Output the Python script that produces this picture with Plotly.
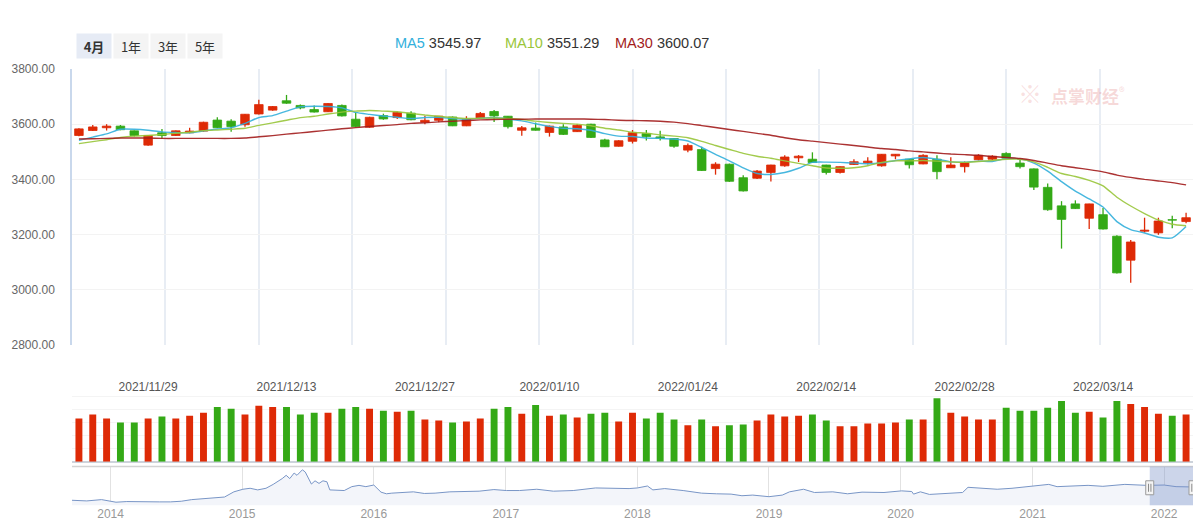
import plotly.graph_objects as go

# ---------------- data ----------------
dates = [
    "2021/11/22", "2021/11/23", "2021/11/24", "2021/11/25", "2021/11/26",
    "2021/11/29", "2021/11/30", "2021/12/01", "2021/12/02", "2021/12/03",
    "2021/12/06", "2021/12/07", "2021/12/08", "2021/12/09", "2021/12/10",
    "2021/12/13", "2021/12/14", "2021/12/15", "2021/12/16", "2021/12/17",
    "2021/12/20", "2021/12/21", "2021/12/22", "2021/12/23", "2021/12/24",
    "2021/12/27", "2021/12/28", "2021/12/29", "2021/12/30", "2021/12/31",
    "2022/01/04", "2022/01/05", "2022/01/06", "2022/01/07",
    "2022/01/10", "2022/01/11", "2022/01/12", "2022/01/13", "2022/01/14",
    "2022/01/17", "2022/01/18", "2022/01/19", "2022/01/20", "2022/01/21",
    "2022/01/24", "2022/01/25", "2022/01/26", "2022/01/27", "2022/01/28",
    "2022/02/07", "2022/02/08", "2022/02/09", "2022/02/10", "2022/02/11",
    "2022/02/14", "2022/02/15", "2022/02/16", "2022/02/17", "2022/02/18",
    "2022/02/21", "2022/02/22", "2022/02/23", "2022/02/24", "2022/02/25",
    "2022/02/28", "2022/03/01", "2022/03/02", "2022/03/03", "2022/03/04",
    "2022/03/07", "2022/03/08", "2022/03/09", "2022/03/10", "2022/03/11",
    "2022/03/14", "2022/03/15", "2022/03/16", "2022/03/17", "2022/03/18",
    "2022/03/21", "2022/03/22",
]

open_ = [3559, 3577, 3587, 3593, 3576, 3524, 3569, 3559, 3569, 3575, 3615, 3611, 3598, 3637, 3651, 3685, 3668, 3653, 3645, 3668, 3618,
         3589, 3631, 3624, 3640, 3607, 3614, 3626, 3594, 3623, 3646, 3629, 3578, 3586, 3570, 3590, 3573, 3600, 3543, 3520, 3538,
         3566, 3554, 3548, 3506, 3508, 3439, 3455, 3406, 3404, 3425, 3449, 3478, 3473, 3452, 3425, 3454, 3460, 3449, 3485, 3473, 3456,
         3473, 3442, 3446, 3471, 3473, 3494, 3459, 3438, 3371, 3304, 3311, 3259, 3272, 3194, 3107, 3212, 3206, 3254, 3247]
close = [3583, 3590, 3593, 3580, 3559, 3559, 3559, 3576, 3575, 3607, 3587, 3591, 3636, 3671, 3664, 3676, 3659, 3644, 3675, 3630, 3591,
         3625, 3619, 3643, 3616, 3614, 3629, 3594, 3617, 3639, 3630, 3591, 3587, 3578, 3593, 3563, 3596, 3552, 3518, 3540, 3569,
         3555, 3548, 3520, 3523, 3432, 3455, 3393, 3358, 3430, 3452, 3481, 3484, 3461, 3425, 3446, 3464, 3466, 3491, 3491, 3453, 3487,
         3428, 3452, 3461, 3487, 3484, 3477, 3446, 3372, 3290, 3255, 3294, 3311, 3220, 3061, 3173, 3216, 3249, 3252, 3261]
high = [3585, 3597, 3600, 3597, 3577, 3560, 3583, 3577, 3587, 3609, 3625, 3618, 3637, 3689, 3666, 3706, 3671, 3668, 3676, 3671, 3642,
        3627, 3638, 3645, 3647, 3631, 3630, 3628, 3629, 3644, 3651, 3630, 3593, 3606, 3595, 3600, 3600, 3602, 3547, 3542, 3579,
        3579, 3576, 3550, 3530, 3518, 3462, 3457, 3415, 3434, 3453, 3487, 3488, 3498, 3453, 3447, 3473, 3480, 3492, 3492, 3474, 3491,
        3487, 3480, 3465, 3491, 3487, 3498, 3470, 3439, 3385, 3321, 3324, 3312, 3296, 3197, 3180, 3261, 3261, 3268, 3279]
low = [3556, 3575, 3577, 3578, 3555, 3522, 3547, 3558, 3567, 3573, 3586, 3573, 3591, 3635, 3649, 3674, 3654, 3642, 3644, 3628, 3589,
       3587, 3616, 3619, 3614, 3600, 3607, 3593, 3593, 3621, 3608, 3584, 3558, 3577, 3555, 3561, 3572, 3550, 3517, 3519, 3530,
       3541, 3541, 3515, 3498, 3430, 3417, 3391, 3356, 3401, 3392, 3446, 3463, 3460, 3418, 3421, 3452, 3454, 3446, 3473, 3439, 3455,
       3400, 3441, 3425, 3469, 3470, 3475, 3439, 3361, 3286, 3149, 3293, 3220, 3218, 3059, 3025, 3207, 3199, 3223, 3241]

ma5 = [3541.3, 3553.3, 3565.0, 3581.6, 3581.6, 3578.0, 3572.0, 3569.6, 3568.5, 3575.6, 3582.6, 3587.2, 3602.8, 3624.0, 3631.0, 3647.3, 3662.9, 3665.0, 3663.9, 3659.3, 3642.7,
       3635.6, 3629.6, 3625.0, 3620.4, 3624.0, 3625.0, 3620.4, 3618.0, 3621.5, 3624.0, 3619.0, 3612.0, 3601.4, 3592.2, 3585.1, 3583.7, 3578.0, 3566.0, 3556.8, 3555.4,
       3549.8, 3548.4, 3546.2, 3539.2, 3515.5, 3490.7, 3467.1, 3441.3, 3421.1, 3417.6, 3424.7, 3440.2, 3461.4, 3462.5, 3461.4, 3458.9, 3456.5, 3460.0, 3468.5, 3474.1, 3479.1,
       3473.1, 3463.5, 3462.5, 3466.0, 3464.9, 3475.5, 3474.1, 3458.9, 3429.6, 3391.8, 3357.5, 3329.2, 3299.9, 3246.9, 3217.6, 3205.6, 3190.4, 3187.9, 3229.2]
ma10 = [3529.6, 3536.7, 3543.8, 3551.9, 3556.8, 3559.0, 3562.5, 3567.4, 3571.0, 3576.6, 3579.1, 3581.6, 3585.1, 3595.7, 3604.9, 3614.4, 3624.0, 3628.6, 3636.7, 3643.8, 3647.3,
        3649.8, 3647.3, 3645.2, 3639.2, 3633.2, 3628.6, 3624.0, 3620.4, 3621.5, 3622.6, 3620.4, 3616.9, 3610.9, 3606.3, 3602.8, 3600.3, 3594.3, 3585.1, 3579.1, 3571.0,
        3567.4, 3561.4, 3556.8, 3550.8, 3537.7, 3522.6, 3508.4, 3494.3, 3483.7, 3476.6, 3467.1, 3457.9, 3449.4, 3441.3, 3440.2, 3442.3, 3449.4, 3461.4, 3467.1, 3467.1, 3468.5,
        3466.0, 3463.5, 3461.4, 3464.9, 3468.5, 3473.1, 3473.1, 3463.5, 3443.7, 3421.1, 3410.5, 3396.4, 3376.6, 3335.2, 3303.4, 3276.2, 3252.9, 3237.4, 3231.7]
ma30 = [3546.2, 3547.3, 3548.4, 3549.8, 3549.8, 3549.8, 3548.4, 3548.4, 3548.4, 3548.4, 3548.4, 3548.4, 3549.8, 3554.4, 3558.6, 3563.9, 3568.5, 3573.4, 3578.4, 3583.3, 3587.6,
        3591.5, 3595.0, 3598.5, 3602.8, 3604.9, 3608.4, 3610.9, 3613.4, 3615.5, 3616.9, 3618.0, 3618.0, 3619.0, 3619.0, 3619.0, 3619.0, 3618.0, 3616.9, 3614.4, 3613.4,
        3612.7, 3610.9, 3607.4, 3602.1, 3595.0, 3587.9, 3580.9, 3573.8, 3566.7, 3559.7, 3550.8, 3543.8, 3538.5, 3533.2, 3527.9, 3522.6, 3517.2, 3511.9, 3508.4, 3503.1, 3499.6,
        3495.3, 3491.8, 3489.7, 3487.2, 3482.6, 3479.1, 3475.5, 3468.5, 3458.9, 3449.4, 3442.3, 3435.3, 3427.1, 3415.5, 3407.0, 3399.9, 3394.3, 3388.3, 3380.1]

volume = [331, 361, 331, 301, 301, 331, 346, 331, 353, 376, 420, 405, 361, 428, 420, 420, 361, 376, 376, 405,
          420, 405, 390, 383, 390, 323, 316, 301, 308, 331, 405, 420, 368, 435, 353, 361, 338, 368,
          376, 308, 376, 331, 376, 323, 279, 323, 271, 279, 286, 316, 361, 346, 353, 361, 316, 271, 271, 293,
          293, 301, 323, 323, 487, 376, 346, 323, 323, 413, 390, 390, 413, 465, 376, 383, 338, 465, 443, 420,
          368, 353, 361]

vol_label_dates = ["2021/11/29", "2021/12/13", "2021/12/27", "2022/01/10",
                   "2022/01/24", "2022/02/14", "2022/02/28", "2022/03/14"]

price_ticks = [2800, 3000, 3200, 3400, 3600, 3800]

ma_names = ["MA5", "MA10", "MA30"]
ma_legend_values = ["3545.97", "3551.29", "3600.07"]
ma_colors = ["#33b0dc", "#99c63a", "#a31c1c"]

range_buttons = ["4月", "1年", "3年", "5年"]

nav_dates = ["2013-09-16", "2013-10-27", "2013-12-07", "2014-01-01", "2014-01-16", "2014-02-15", "2014-03-16",
             "2014-04-16", "2014-05-16", "2014-06-16", "2014-07-16", "2014-08-14", "2014-09-14", "2014-10-14",
             "2014-11-13", "2014-12-09", "2015-01-03", "2015-01-23", "2015-02-13", "2015-03-08", "2015-03-28",
             "2015-04-22", "2015-05-03", "2015-05-13", "2015-05-25", "2015-06-02", "2015-06-17", "2015-06-25",
             "2015-07-07", "2015-07-12", "2015-07-22", "2015-08-02", "2015-08-13", "2015-08-24", "2015-09-01",
             "2015-09-21", "2015-10-11", "2015-11-01", "2015-11-21", "2015-12-10", "2016-01-01", "2016-01-21",
             "2016-02-05", "2016-02-20", "2016-03-20", "2016-04-20", "2016-05-20", "2016-06-19", "2016-07-30",
             "2016-09-09", "2016-10-19", "2016-11-29", "2017-01-03", "2017-02-08", "2017-03-28", "2017-05-13",
             "2017-07-07", "2017-09-07", "2017-11-07", "2017-12-09", "2018-01-01", "2018-01-29", "2018-02-13",
             "2018-03-18", "2018-05-08", "2018-06-28", "2018-08-08", "2018-09-18", "2018-10-18", "2018-11-17",
             "2019-01-01", "2019-02-07", "2019-02-27", "2019-04-07", "2019-05-07", "2019-06-27", "2019-08-07",
             "2019-09-16", "2019-11-16", "2020-01-04", "2020-02-01", "2020-02-06", "2020-02-25", "2020-03-21",
             "2020-05-06", "2020-06-21", "2020-07-06", "2020-08-16", "2020-09-25", "2020-11-05", "2021-01-01",
             "2021-02-15", "2021-03-10", "2021-04-24", "2021-06-04", "2021-07-15", "2021-09-14", "2021-11-13",
             "2022-01-01", "2022-02-03", "2022-03-04", "2022-03-22"]
nav_close = [2181, 2119, 2244, 2119, 1993, 2056, 2025,
             2056, 2025, 2025, 2087, 2244, 2307, 2370,
             2496, 2998, 3249, 3343, 3186, 3343, 3720,
             4282, 4599, 4282, 4819, 4599, 5133, 4913,
             4129, 3751, 4066, 3815, 4066, 3971, 3186,
             3123, 3123, 3500, 3626, 3500, 3657, 2967,
             2810, 2872, 2935, 2998, 2841, 2872, 2998,
             3029, 3061, 3217, 3123, 3123, 3249, 3061,
             3123, 3374, 3343, 3312, 3375, 3563, 3186,
             3312, 3123, 2872, 2810, 2778, 2621, 2684,
             2527, 2684, 2998, 3249, 2935, 2998, 2810,
             2967, 2935, 3092, 3029, 2778, 2998, 2747,
             2841, 2935, 3437, 3375, 3249, 3343, 3594,
             3720, 3500, 3532, 3626, 3532, 3720, 3626,
             3657, 3500, 3437, 3469]

# ---------------- geometry (page has an 8px body margin) ----------------
OFF = 8
W, H = 1201 - OFF, 529 - OFF
def fx(px):
    return (px - OFF) / W
def fy(py):
    return 1 - (py - OFF) / H
def ydom(top_px, bot_px):
    return [fy(bot_px), fy(top_px)]
XDOM = [fx(72), fx(1193)]

RED = "#de2a06"
GREEN = "#34a916"

idx = list(range(len(dates)))
is_up = [c >= o for o, c in zip(open_, close)]
colors = [RED if u else GREEN for u in is_up]

fig = go.Figure()

# wicks
for up, col in [(True, RED), (False, GREEN)]:
    wx, wy = [], []
    for i in idx:
        if is_up[i] == up:
            wx += [i, i, None]
            wy += [low[i], high[i], None]
    fig.add_trace(go.Scatter(x=wx, y=wy, mode="lines", line=dict(color=col, width=1.3),
                             xaxis="x", yaxis="y", hoverinfo="skip", showlegend=False))

# candle bodies
fig.add_trace(go.Bar(x=idx, y=[abs(c - o) for o, c in zip(open_, close)],
                     base=[min(o, c) for o, c in zip(open_, close)],
                     width=0.62, marker=dict(color=colors, line=dict(color=colors, width=0.8)),
                     xaxis="x", yaxis="y", hoverinfo="skip", showlegend=False))

# moving averages
for name, vals, col in zip(ma_names, [ma5, ma10, ma30], ma_colors):
    fig.add_trace(go.Scatter(x=idx, y=vals, mode="lines", name=name,
                             line=dict(color=col, width=1.4, shape="spline", smoothing=0.6),
                             opacity=0.9, xaxis="x", yaxis="y", hoverinfo="skip", showlegend=False))

# volume
fig.add_trace(go.Bar(x=idx, y=volume, width=0.5, marker=dict(color=colors, line=dict(width=0)),
                     xaxis="x2", yaxis="y2", hoverinfo="skip", showlegend=False))

# navigator
fig.add_trace(go.Scatter(x=nav_dates, y=nav_close, mode="lines", fill="tozeroy",
                         fillcolor="#f3f5fa", line=dict(color="#7895c6", width=1),
                         xaxis="x3", yaxis="y3", hoverinfo="skip", showlegend=False))

n = len(dates)
grid_vals = [-0.5 + n * k / 12 for k in range(13)]
font_main = "Liberation Sans, Arial, Noto Sans CJK SC, sans-serif"

fig.update_layout(
    width=W, height=H,
    margin=dict(l=0, r=0, t=0, b=0),
    paper_bgcolor="white", plot_bgcolor="white",
    barmode="overlay", hovermode=False, showlegend=False,
    font=dict(family=font_main, color="#666"),
    xaxis=dict(domain=XDOM, range=[-0.5, n - 0.5], anchor="y",
               tickvals=grid_vals, showticklabels=False, ticks="",
               showgrid=True, gridcolor="#e8edf4", gridwidth=1.6, zeroline=False, showline=False),
    yaxis=dict(domain=ydom(63.5, 347), range=[2800, 3800], anchor="x",
               tickvals=price_ticks, tickformat=".2f", ticks="",
               tickfont=dict(size=12, color="#666"), ticklabelstandoff=13,
               showgrid=True, gridcolor="#f3f3f3", gridwidth=1, zeroline=False,
               showline=True, linecolor="#c9d8ec", linewidth=1.5),
    xaxis2=dict(domain=XDOM, range=[-0.5, n - 0.5], anchor="y2", side="top",
                tickvals=[dates.index(d) for d in vol_label_dates], ticktext=vol_label_dates,
                ticklabelposition="inside", ticks="", tickfont=dict(size=12, color="#555"),
                showgrid=False, zeroline=False, showline=False),
    yaxis2=dict(domain=ydom(383, 467), range=[0, 627], anchor="x2", dtick=100,
                showticklabels=False, ticks="", showgrid=True, gridcolor="#f4f4f4",
                zeroline=True, zerolinecolor="#cdd3db", zerolinewidth=1.5, showline=False),
    xaxis3=dict(domain=XDOM, type="date", range=[nav_dates[0], nav_dates[-1]], anchor="y3",
                tickformat="%Y", dtick="M12", tick0="2014-01-01", ticks="",
                tickfont=dict(size=12, color="#999"), showgrid=True, gridcolor="#e2e2e2",
                zeroline=False, showline=False),
    yaxis3=dict(domain=ydom(472, 511.7), range=[1707, 5449], anchor="x3",
                showticklabels=False, ticks="", showgrid=False, zeroline=False, showline=False),
)

# navigator frame + selection window (window spans the main chart's dates)
win0 = dates[0].replace("/", "-")
win1 = dates[-1].replace("/", "-")
shapes = [
    dict(type="line", xref="x3 domain", yref="y3 domain", x0=0, x1=1, y0=1, y1=1,
         line=dict(color="#d3d3d3", width=1.5), layer="above"),
    dict(type="rect", xref="x3", yref="y3 domain", x0=win0, x1=win1, y0=0, y1=1,
         fillcolor="rgba(120,145,200,0.38)", line=dict(width=0), layer="above"),
]
for xa in [win0, win1]:
    shapes.append(dict(type="rect", xref="x3", yref="y3 domain", xsizemode="pixel", ysizemode="pixel",
                       xanchor=xa, yanchor=0.45, x0=-4, x1=4, y0=-7, y1=7,
                       fillcolor="#f4f4f4", line=dict(color="#9b9b9b", width=1), layer="above"))
    for dx in (-1.2, 1.2):
        shapes.append(dict(type="line", xref="x3", yref="y3 domain", xsizemode="pixel", ysizemode="pixel",
                           xanchor=xa, yanchor=0.45, x0=dx, x1=dx, y0=-4, y1=4,
                           line=dict(color="#8a8a8a", width=1), layer="above"))
fig.update_layout(shapes=shapes)

annotations = []
# range buttons
btn_x = [94, 131, 168, 205]
for i, (lbl, bx) in enumerate(zip(range_buttons, btn_x)):
    annotations.append(dict(
        text=("<b>%s</b>" % lbl) if i == 0 else lbl,
        xref="paper", yref="paper", x=fx(bx), y=fy(40), xanchor="center", yanchor="middle",
        showarrow=False, width=32, height=22, align="center",
        bgcolor="#e6ebf5" if i == 0 else "#f4f4f4",
        font=dict(size=13, color="#333", family="Noto Sans CJK SC, sans-serif")))

# MA legend
leg_x = [393, 503, 613]
for name, val, col, lx in zip(ma_names, ma_legend_values, ma_colors, leg_x):
    annotations.append(dict(
        text="<span style='color:%s'>%s</span> <span style='color:#333'>%s</span>" % (col, name, val),
        xref="paper", yref="paper", x=fx(lx), y=fy(37), xanchor="left", yanchor="middle",
        showarrow=False, font=dict(size=14.5, family=font_main)))

# watermark
annotations.append(dict(text="<b>点掌财经</b><sup>®</sup>", xref="paper", yref="paper",
                        x=fx(1088), y=fy(90), xanchor="center", yanchor="middle", showarrow=False,
                        font=dict(size=17, color="rgba(226,120,120,0.28)", family="Noto Sans CJK SC, sans-serif")))
annotations.append(dict(text="<b>※</b>", xref="paper", yref="paper",
                        x=fx(1030), y=fy(88), xanchor="center", yanchor="middle", showarrow=False,
                        font=dict(size=24, color="rgba(226,120,120,0.22)", family="Noto Sans CJK SC, sans-serif")))
fig.update_layout(annotations=annotations)

fig.write_html("out.html")
